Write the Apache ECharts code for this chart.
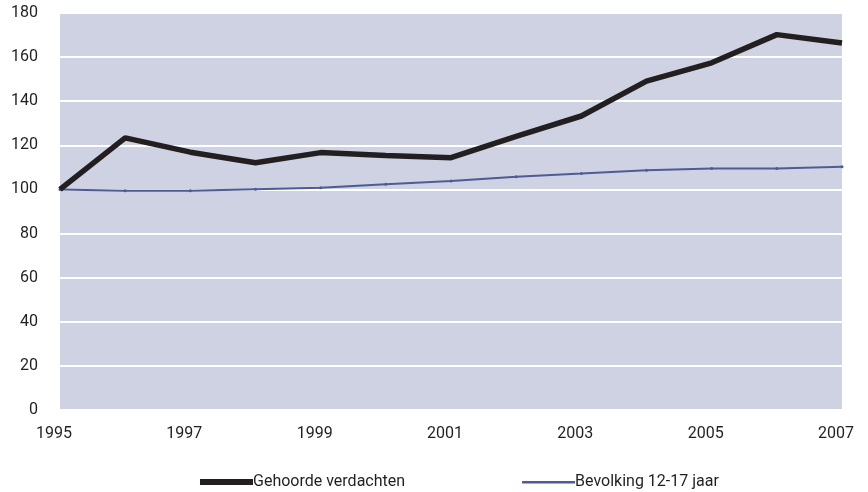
<!DOCTYPE html>
<html>
<head>
<meta charset="utf-8">
<script src="https://cdn.jsdelivr.net/npm/echarts@6/dist/echarts.min.js"></script>
<style>
html,body{margin:0;padding:0;background:#fff;}
#chart{width:868px;height:492px;}
</style>
</head>
<body>
<div id="chart"></div>
<script>
var years = ['1995','1996','1997','1998','1999','2000','2001','2002','2003','2004','2005','2006','2007'];
var verdachten = [100, 123.4, 116.9, 112.1, 116.7, 115.4, 114.4, 124.1, 133.3, 149.1, 157.4, 170.2, 166.4];
var bevolking = [100, 99.4, 99.4, 100.1, 100.8, 102.3, 103.8, 105.8, 107.2, 108.7, 109.5, 109.5, 110.3];
var seriesNames = ['Gehoorde verdachten', 'Bevolking 12-17 jaar'];
var yTicks = {min: 0, max: 180, interval: 20};

var chart = echarts.init(document.getElementById('chart'));
var font = 'Roboto, "Noto Sans", sans-serif';
chart.setOption({
  animation: false,
  backgroundColor: '#ffffff',
  grid: {left: 60, right: 26, top: 13, bottom: 82, show: true, backgroundColor: '#ced2e3', borderWidth: 0},
  xAxis: {
    type: 'category',
    data: years,
    boundaryGap: false,
    axisLine: {show: false},
    axisTick: {show: false},
    splitLine: {show: false},
    axisLabel: {interval: 1, color: '#231f20', fontSize: 16, fontFamily: font, margin: 16, padding: [0, 12, 0, 0]}
  },
  yAxis: {
    type: 'value',
    min: yTicks.min, max: yTicks.max, interval: yTicks.interval,
    axisLine: {show: false},
    axisTick: {show: false},
    splitLine: {show: true, lineStyle: {color: '#ffffff', width: 2}},
    axisLabel: {color: '#231f20', fontSize: 16, fontFamily: font, margin: 22}
  },
  legend: {
    left: 195, top: 469,
    itemGap: 117,
    itemWidth: 53, itemHeight: 6,
    textStyle: {color: '#231f20', fontSize: 16, fontFamily: font, padding: [0,0,0,-5]},
    data: [
      {name: seriesNames[0], icon: 'path://M0,0H53V6H0Z', itemStyle: {color: '#231f20'}},
      {name: seriesNames[1], icon: 'path://M0,0M53,6M0,2H53V4.5H0Z', itemStyle: {color: '#4e5b95'}}
    ]
  },
  series: [
    {
      name: seriesNames[0], type: 'line', data: verdachten,
      showSymbol: false, symbol: 'none',
      lineStyle: {color: '#231f20', width: 5.5},
      itemStyle: {color: '#231f20'},
      clip: false, z: 3
    },
    {
      name: seriesNames[1], type: 'line', data: bevolking,
      symbol: 'circle', symbolSize: 3,
      lineStyle: {color: '#4e5b95', width: 2},
      itemStyle: {color: '#4e5b95'},
      clip: false, z: 2
    }
  ]
});
</script>
</body>
</html>
